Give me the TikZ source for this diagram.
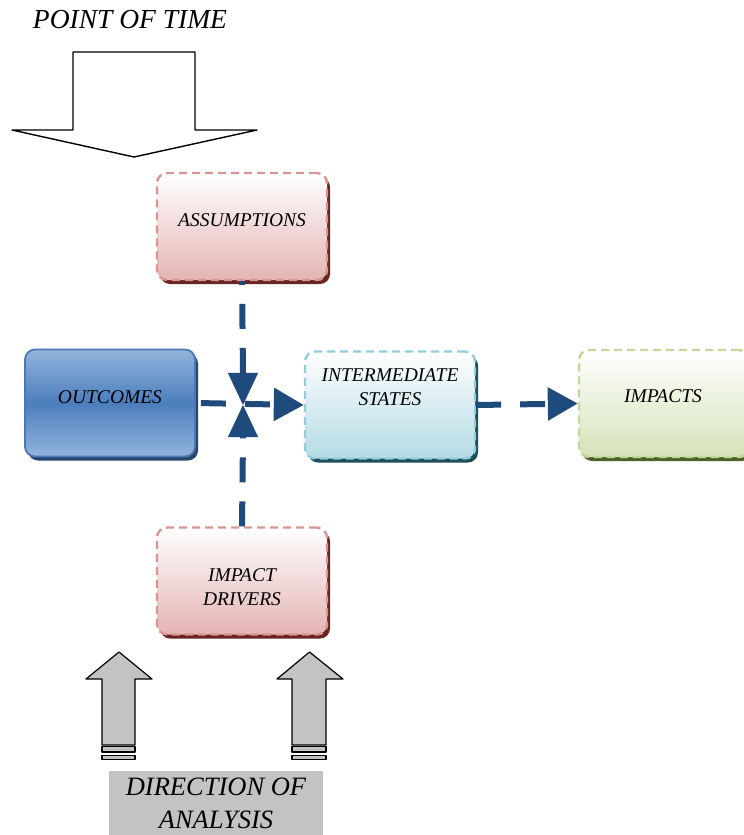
\documentclass[tikz,border=0pt]{standalone}
\usepackage{fontspec}
\setmainfont{Liberation Serif}
\usetikzlibrary{arrows.meta,shadows}

\definecolor{flowblue}{HTML}{1F4A7C}
\definecolor{pinkedge}{HTML}{D99594}
\definecolor{pinkfill}{HTML}{E4B4B3}
\definecolor{pinkshadow}{HTML}{6A2323}
\definecolor{blueedge}{HTML}{4A78B4}
\definecolor{bluelight}{HTML}{93B3DC}
\definecolor{bluemid}{HTML}{4B7EBD}
\definecolor{blueshadow}{HTML}{26466E}
\definecolor{cyanedge}{HTML}{92CDDC}
\definecolor{cyanfill}{HTML}{B4DBE5}
\definecolor{cyanshadow}{HTML}{1E4E5C}
\definecolor{greenedge}{HTML}{C3D69B}
\definecolor{greenfill}{HTML}{D5E3B9}
\definecolor{greenshadow}{HTML}{4E6128}
\definecolor{arrowgray}{HTML}{C3C3C3}

\tikzset{
  box/.style={rectangle, rounded corners=10pt, minimum width=170pt,
    minimum height=107pt, inner sep=0pt, line width=2.4pt},
  boxshadow/.style={drop shadow={shadow xshift=3pt, shadow yshift=-4pt,
    fill=#1, opacity=1}},
  pinkbox/.style={box, draw=pinkedge, dash pattern=on 8pt off 5pt,
    top color=white, bottom color=pinkfill, boxshadow=pinkshadow},
  bluebox/.style={box, line width=1.8pt, draw=blueedge, top color=bluelight,
    bottom color=bluelight, middle color=bluemid, boxshadow=blueshadow},
  cyanbox/.style={box, draw=cyanedge, dash pattern=on 8pt off 5pt,
    top color=white, bottom color=cyanfill, boxshadow=cyanshadow},
  greenbox/.style={box, draw=greenedge, dash pattern=on 8pt off 5pt,
    top color=white, bottom color=greenfill, boxshadow=greenshadow},
  boxtext/.style={font=\fontsize{19.5}{23.5}\selectfont\itshape,
    align=center, inner sep=0pt},
  flow/.style={draw=flowblue, line width=6pt, dash pattern=on 25pt off 19pt},
  flowtip/.style={-{Triangle[length=30pt,width=32pt,fill=flowblue]}},
  hollowarrow/.style={draw=black, fill=white, line width=1.4pt, line join=round},
  grayarrow/.style={draw=black, fill=arrowgray, line width=1.2pt, line join=round},
}

\begin{document}
\begin{tikzpicture}[x=1pt, y=-1pt]
\useasboundingbox (0,0) rectangle (744,835);

% heading and the wide downward arrow
\node[font=\fontsize{27.5}{30}\selectfont\itshape, inner sep=0pt]
  (time) at (130,20) {POINT OF TIME};
\draw[hollowarrow] (73,52) -- (195,52) -- (195,130) -- (257,130)
  -- (134,157) -- (12,130) -- (73,130) -- cycle;

% boxes
\node[pinkbox]  (assump)  at (242,226.5) {};
\node[bluebox]  (outcome) at (110,403) {};
\node[cyanbox]  (interm)  at (390,405) {};
\node[greenbox] (impacts) at (664,403.5) {};
\node[pinkbox]  (drivers) at (242,581) {};

\node[boxtext] (assump-t)  at (242,220) {ASSUMPTIONS};
\node[boxtext] (outcome-t) at (110,397) {OUTCOMES};
\node[boxtext] (interm-t)  at (390,387) {INTERMEDIATE\\STATES};
\node[boxtext] (impacts-t) at (663,396) {IMPACTS};
\node[boxtext] (drivers-t) at (242,587) {IMPACT\\DRIVERS};

% the bow-tie junction
\node[minimum width=30pt, minimum height=64pt, inner sep=0pt]
  (valve) at (243,405) {};
\fill[flowblue] (valve.north west) -- (valve.north east) -- (valve.center) -- cycle;
\fill[flowblue] (valve.south west) -- (valve.south east) -- (valve.center) -- cycle;

% dashed flow lines
\draw[flow] (valve.north) -- (assump.south);
\draw[flow] (drivers.north) -- (valve.south);
\draw[flow, flowtip, dash phase=39pt] (outcome.east) -- (interm.west);
\draw[flow, flowtip] (interm.east) -- (impacts.west);

% upward grey arrows
\draw[grayarrow] (119,652) -- (152,679) -- (135,679) -- (135,745)
  -- (102,745) -- (102,679) -- (86,679) -- cycle;
\draw[grayarrow] (102,746.5) rectangle (135,752);
\draw[grayarrow] (102,755.5) rectangle (135,759.5);
\draw[grayarrow] (309.5,652) -- (343,679) -- (326,679) -- (326,745)
  -- (292,745) -- (292,679) -- (277,679) -- cycle;
\draw[grayarrow] (292,746.5) rectangle (326,752);
\draw[grayarrow] (292,755.5) rectangle (326,759.5);

% caption panel
\node[fill=arrowgray, minimum width=214pt, minimum height=64pt, inner sep=0pt,
  anchor=north west] (panel) at (109,771) {};
\node[font=\fontsize{26.5}{33}\selectfont\itshape, align=center, inner sep=0pt]
  (panel-t) at (216,803) {DIRECTION OF\\ANALYSIS};
\end{tikzpicture}
\end{document}
